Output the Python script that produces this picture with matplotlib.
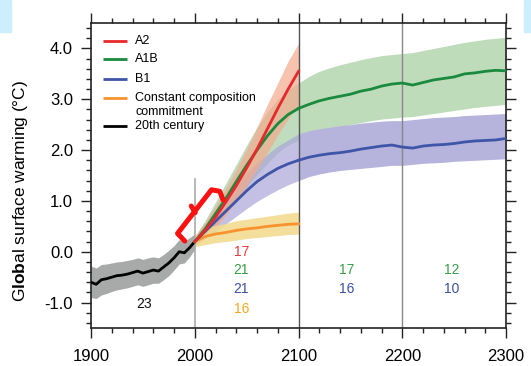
import matplotlib
matplotlib.use("Agg")
import matplotlib.pyplot as plt
from matplotlib.patches import Rectangle
from matplotlib.ticker import MultipleLocator

plt.rcParams['font.family'] = ['Liberation Sans', 'DejaVu Sans']
plt.rcParams['mathtext.fontset'] = 'custom'
plt.rcParams['mathtext.bf'] = 'Liberation Sans:bold'
plt.rcParams['mathtext.rm'] = 'Liberation Sans'

# 20th century (1900-2000, every 5 years)
anos_20 = [1900, 1905, 1910, 1915, 1920, 1925, 1930, 1935, 1940, 1945, 1950,
           1955, 1960, 1965, 1970, 1975, 1980, 1985, 1990, 1995, 2000]
seculo_20 = [-0.60, -0.64, -0.55, -0.53, -0.50, -0.47, -0.46, -0.44, -0.41, -0.38, -0.42,
             -0.39, -0.36, -0.38, -0.30, -0.22, -0.12, 0.00, -0.02, 0.08, 0.20]
seculo_20_min = [-0.90, -0.92, -0.85, -0.82, -0.78, -0.75, -0.73, -0.71, -0.68, -0.65, -0.68,
                 -0.65, -0.62, -0.62, -0.55, -0.47, -0.36, -0.24, -0.22, -0.10, 0.05]
seculo_20_max = [-0.28, -0.32, -0.25, -0.24, -0.22, -0.20, -0.19, -0.17, -0.15, -0.12, -0.15,
                 -0.12, -0.10, -0.12, -0.05, 0.03, 0.12, 0.24, 0.20, 0.28, 0.35]

# 2000-2100 scenarios (every 10 years)
anos_21 = [2000, 2010, 2020, 2030, 2040, 2050, 2060, 2070, 2080, 2090, 2100]
a2 = [0.20, 0.42, 0.68, 0.98, 1.30, 1.65, 2.02, 2.42, 2.82, 3.20, 3.55]
a2_min = [0.12, 0.28, 0.48, 0.72, 1.00, 1.30, 1.62, 1.95, 2.30, 2.62, 2.90]
a2_max = [0.30, 0.58, 0.90, 1.25, 1.62, 2.02, 2.45, 2.90, 3.32, 3.75, 4.10]

a1b = [0.20, 0.45, 0.75, 1.05, 1.38, 1.70, 2.00, 2.28, 2.52, 2.70, 2.82]
a1b_min = [0.12, 0.30, 0.52, 0.76, 1.02, 1.28, 1.52, 1.74, 1.95, 2.10, 2.20]
a1b_max = [0.30, 0.62, 0.98, 1.35, 1.72, 2.10, 2.45, 2.75, 3.00, 3.18, 3.32]

b1 = [0.20, 0.40, 0.60, 0.80, 1.00, 1.20, 1.38, 1.52, 1.64, 1.73, 1.80]
b1_min = [0.12, 0.26, 0.40, 0.55, 0.70, 0.85, 0.99, 1.11, 1.22, 1.32, 1.40]
b1_max = [0.30, 0.55, 0.82, 1.06, 1.30, 1.55, 1.75, 1.92, 2.08, 2.20, 2.32]

compromisso = [0.20, 0.30, 0.35, 0.38, 0.42, 0.45, 0.47, 0.50, 0.52, 0.54, 0.55]
compromisso_min = [0.10, 0.14, 0.18, 0.20, 0.23, 0.26, 0.28, 0.30, 0.32, 0.34, 0.35]
compromisso_max = [0.30, 0.46, 0.52, 0.56, 0.61, 0.64, 0.67, 0.70, 0.73, 0.76, 0.78]

# 2100-2300 stabilisation (every 10 years)
anos_22 = [2100, 2110, 2120, 2130, 2140, 2150, 2160, 2170, 2180, 2190, 2200,
           2210, 2220, 2230, 2240, 2250, 2260, 2270, 2280, 2290, 2300]
a1b_long = [2.82, 2.90, 2.97, 3.02, 3.06, 3.10, 3.16, 3.20, 3.26, 3.30, 3.32,
            3.28, 3.33, 3.38, 3.41, 3.44, 3.50, 3.52, 3.55, 3.57, 3.56]
a1b_long_min = [2.20, 2.30, 2.36, 2.42, 2.46, 2.50, 2.54, 2.58, 2.61, 2.63, 2.65,
                2.66, 2.69, 2.72, 2.75, 2.78, 2.81, 2.84, 2.86, 2.88, 2.90]
a1b_long_max = [3.32, 3.45, 3.55, 3.62, 3.68, 3.73, 3.78, 3.82, 3.86, 3.88, 3.90,
                3.92, 3.96, 4.00, 4.04, 4.08, 4.12, 4.15, 4.18, 4.20, 4.22]
b1_long = [1.80, 1.86, 1.90, 1.93, 1.95, 1.98, 2.02, 2.05, 2.08, 2.10, 2.06,
           2.04, 2.08, 2.10, 2.11, 2.13, 2.16, 2.18, 2.19, 2.20, 2.23]
b1_long_min = [1.40, 1.48, 1.53, 1.57, 1.60, 1.62, 1.64, 1.66, 1.68, 1.70, 1.70,
               1.72, 1.74, 1.75, 1.76, 1.78, 1.79, 1.80, 1.81, 1.82, 1.83]
b1_long_max = [2.32, 2.38, 2.42, 2.45, 2.48, 2.50, 2.53, 2.55, 2.57, 2.58, 2.58,
               2.60, 2.62, 2.64, 2.65, 2.66, 2.68, 2.69, 2.70, 2.71, 2.72]

# numbers of models
num_textos = [("23", 1951, -1.02, "#111111"),
              ("17", 2045, 0.00, "#e8393f"),
              ("21", 2045, -0.36, "#38a046"),
              ("21", 2045, -0.74, "#3b4fa5"),
              ("16", 2045, -1.12, "#f5a623"),
              ("17", 2146, -0.36, "#38a046"),
              ("16", 2146, -0.74, "#3b4fa5"),
              ("12", 2248, -0.36, "#38a046"),
              ("10", 2248, -0.74, "#3b4fa5")]

# red brace annotation
chave_x = [1990.4, 1983.4, 2016.1, 2024.1, 2027.3]
chave_y = [0.21, 0.36, 1.22, 1.19, 1.02]
chave_meio_x = [2000.4, 1996.6]
chave_meio_y = [0.77, 0.90]

vermelho = "#e8282a"
verde = "#1a8a3e"
azul = "#3f55a8"
laranja = "#f7922e"

fig = plt.figure(figsize=(5.31, 3.66), dpi=100)
ax = fig.add_axes([0.1714, 0.1038, 0.7816, 0.8332])

# faixa de fundo azul
fig.patches.append(Rectangle((0, 0.913), 0.021, 0.087, transform=fig.transFigure,
                             color="#cdeefc", zorder=0))
fig.patches.append(Rectangle((0.987, 0.913), 0.013, 0.087, transform=fig.transFigure,
                             color="#cdeefc", zorder=0))

# bandas
ax.fill_between(anos_20, seculo_20_min, seculo_20_max, color="#a8aaaa", lw=0, zorder=1)
ax.fill_between(anos_21, a1b_min, a1b_max, color="#a6cea3", alpha=0.7, lw=0, zorder=1)
ax.fill_between(anos_21, b1_min, b1_max, color="#aaa6d8", alpha=0.7, lw=0, zorder=1)
ax.fill_between(anos_21, a2_min, a2_max, color="#f4a98c", alpha=0.7, lw=0, zorder=1)
ax.fill_between(anos_21, compromisso_min, compromisso_max, color="#f3d98a", alpha=0.85, lw=0, zorder=1)
ax.fill_between(anos_22, a1b_long_min, a1b_long_max, color="#bfdcba", lw=0, zorder=1)
ax.fill_between(anos_22, b1_long_min, b1_long_max, color="#b6b3dc", lw=0, zorder=1)

# linhas verticais
ax.plot([2000, 2000], [-1.5, 1.43], color="#aaaaaa", lw=1.2, zorder=2)
ax.axvline(2100, color="#555555", lw=1.0, zorder=2)
ax.axvline(2200, color="#888888", lw=1.0, zorder=2)

# linhas
ax.plot(anos_20, seculo_20, color="black", lw=2, zorder=3)
ax.plot(anos_21, compromisso, color=laranja, lw=2, zorder=3)
ax.plot(anos_21, b1, color=azul, lw=2, zorder=3)
ax.plot(anos_21, a1b, color=verde, lw=2, zorder=3)
ax.plot(anos_21, a2, color=vermelho, lw=2, zorder=4)
ax.plot(anos_22, a1b_long, color=verde, lw=2, zorder=3)
ax.plot(anos_22, b1_long, color=azul, lw=2, zorder=3)

# chave vermelha
ax.plot(chave_x, chave_y, color="#ff1010", lw=3.6, solid_joinstyle="round",
        solid_capstyle="round", zorder=6)
ax.plot(chave_meio_x, chave_meio_y, color="#ff1010", lw=3.6, solid_capstyle="round", zorder=6)

for txt, x, y, cor in num_textos:
    ax.text(x, y, txt, color=cor, fontsize=10, ha="center", va="center", zorder=5)

# legenda manual
legenda = [("A2", vermelho, 0.942, 0.942),
           ("A1B", verde, 0.882, 0.882),
           ("B1", azul, 0.816, 0.816),
           ("Constant composition\ncommitment", laranja, 0.754, 0.731),
           ("20th century", "black", 0.662, 0.662)]
for rotulo, cor, y_linha, y_txt in legenda:
    ax.plot([0.029, 0.087], [y_linha, y_linha], color=cor, lw=2, transform=ax.transAxes,
            solid_capstyle="butt", zorder=5)
    ax.text(0.106, y_txt, rotulo, fontsize=9, va="center", ha="left",
            transform=ax.transAxes, linespacing=1.15, zorder=5)

ax.set_xlim(1900, 2300)
ax.set_ylim(-1.5, 4.5)
ax.set_xticks([1900, 2000, 2100, 2200, 2300])
ax.set_yticks([-1.0, 0.0, 1.0, 2.0, 3.0, 4.0])
ax.set_yticklabels(["-1.0", "0.0", "1.0", "2.0", "3.0", "4.0"])
ax.xaxis.set_minor_locator(MultipleLocator(20))
ax.yaxis.set_minor_locator(MultipleLocator(0.2))
ax.tick_params(which="both", direction="out", top=True, right=True, labelsize=12,
               width=1, color="#222222")
ax.tick_params(which="major", length=7)
ax.tick_params(which="minor", length=3.5)
ax.tick_params(axis="x", pad=8)
ax.tick_params(axis="y", pad=6)
for s in ax.spines.values():
    s.set_linewidth(1.2)
    s.set_color("#222222")

ax.set_ylabel(r"G$\mathbf{lob}$al surface warming (°C)", fontsize=12.5)
ax.yaxis.set_label_coords(-0.148, 0.45)

fig.savefig("out.png", dpi=100)
